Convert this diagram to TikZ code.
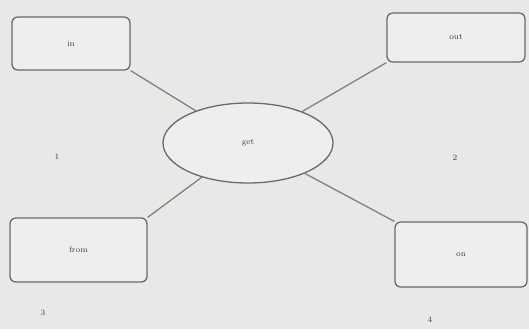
\documentclass[tikz,border=0pt]{standalone}
\usepackage{tikz}
\usetikzlibrary{shapes.geometric, positioning}
\definecolor{paper}{RGB}{232,232,230}
\definecolor{boxfill}{RGB}{238,238,236}
\definecolor{inkgray}{RGB}{105,105,105}
\definecolor{textgray}{RGB}{60,60,60}

\begin{document}
\begin{tikzpicture}[
    x=0.03cm, y=-0.03cm,
    every node/.style={font=\scriptsize, text=textgray},
    wordbox/.style={rectangle, draw=inkgray, line width=1.1pt, fill=boxfill, rounded corners=5pt, align=center},
    hub/.style={ellipse, draw=inkgray, line width=1.1pt, fill=boxfill, minimum width=5.1cm, minimum height=2.4cm},
    link/.style={draw=inkgray!85, line width=1.1pt}
]
% background and margins
\fill[paper] (0,0) rectangle (529,329);
\useasboundingbox (0,0) rectangle (529,329);

\node[hub] (get) at (248,143) {get};

\node[wordbox, minimum width=3.54cm, minimum height=1.59cm] (in) at (71,43.5) {in};
\node[wordbox, minimum width=4.14cm, minimum height=1.47cm] (out) at (456,37.5) {out};
\node[wordbox, minimum width=4.11cm, minimum height=1.92cm] (from) at (78.5,250) {from};
\node[wordbox, minimum width=3.96cm, minimum height=1.95cm] (on) at (461,254.5) {on};

\node (n1) at (57,157) {1};
\node (n2) at (455,158) {2};
\node (n3) at (43,313) {3};
\node (n4) at (430,320) {4};

\draw[link] (in.south east) -- (get);
\draw[link] (out.south west) -- (get);
\draw[link] (from.north east) -- (get);
\draw[link] (on.north west) -- (get);

\end{tikzpicture}
\end{document}
